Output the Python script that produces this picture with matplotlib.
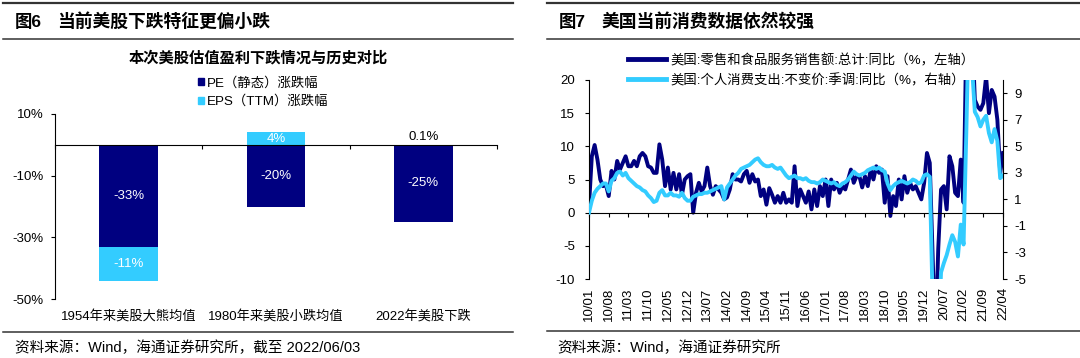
import matplotlib
matplotlib.use('Agg')
import matplotlib.pyplot as plt
from matplotlib.lines import Line2D
from matplotlib.patches import Patch
import numpy as np
import pandas as pd

plt.rcParams['font.family'] = ['Liberation Sans', 'Noto Sans CJK SC']
plt.rcParams['axes.unicode_minus'] = False

DARK = '#000080'
CYAN = '#33CCFF'
RULE = '#333333'

# ---- 图6 数据 ----
categories = ['1954年来美股大熊均值', '1980年来美股小跌均值', '2022年美股下跌']
pe_change = [-33, -20, -25]
eps_change = [-11, 4, 0.1]
pe_labels = ['-33%', '-20%', '-25%']
eps_labels = ['-11%', '4%', '0.1%']

# ---- 图7 数据 (2010/01 - 2022/04, 月度) ----
retail_yoy = [
    1.0, 8.5, 10.2, 8.0, 5.0, 4.0, 4.2, 2.5, 6.3, 5.0, 7.8, 6.5,
    7.5, 8.5, 7.0, 7.0, 7.8, 7.0, 8.5, 9.0, 8.5, 7.0, 6.8, 6.0,
    6.0, 10.3, 8.0, 4.0, 6.8, 3.5, 6.0, 3.5, 5.8, 2.7, 5.0, 5.5,
    5.8, 0.0, 3.0, 4.5, 3.2, 4.0, 6.8, 4.0, 2.7, 4.0, 3.5, 3.0,
    2.0, 2.3, 3.5, 5.8, 5.0, 5.0, 4.7, 5.8, 6.3, 4.5, 5.8, 4.7,
    5.0, 2.5, 3.5, 1.2, 3.7, 2.7, 1.5, 2.5, 1.5, 3.0, 1.5, 2.0,
    1.5, 7.0, 1.0, 3.5, 2.5, 1.5, 3.2, 0.5, 3.5, 1.0, 4.0, 2.5,
    5.0, 1.0, 5.0, 3.5, 4.5, 3.0, 4.0, 3.5, 5.0, 6.5, 4.5, 5.5,
    5.5, 3.8, 5.5, 4.0, 6.5, 5.0, 7.0, 6.0, 6.5, 1.5, 5.5, -0.5,
    2.5, 1.0, 5.0, 2.0, 5.5, 3.0, 4.5, 3.5, 4.0, 3.0, 2.0, 4.5,
    9.0, 7.5, -6.0, -20.0, -5.5, 3.5, 4.0, 0.5, 8.5, 7.0, 3.0, 2.5,
    8.0, 1.5, 28.0, 51.0, 28.0, 17.0, 16.0, 15.5, 16.5, 20.5, 15.0, 18.5,
    17.5, 14.0, 6.0, 9.0,
]
pce_yoy = [
    0.0, 0.9, 1.5, 1.8, 2.0, 2.2, 2.2, 1.6, 2.4, 2.6, 3.0, 3.1,
    2.8, 3.0, 2.6, 2.4, 2.2, 2.0, 1.9, 1.7, 1.6, 1.3, 1.1, 0.8,
    0.9, 1.5, 1.7, 1.3, 1.3, 1.5, 1.3, 1.3, 1.2, 1.5, 1.1, 0.9,
    0.9, 1.2, 1.3, 1.4, 1.4, 1.5, 1.5, 1.6, 1.7, 1.8, 1.9, 2.0,
    1.0, 1.9, 2.2, 2.5, 2.8, 3.0, 3.3, 3.4, 3.5, 3.6, 3.8, 4.0,
    4.1, 3.8, 3.6, 3.5, 3.5, 3.6, 3.4, 3.3, 3.4, 3.1, 2.8, 2.6,
    2.7, 2.8, 2.6, 2.6, 2.5, 2.6, 2.4, 2.3, 2.3, 2.2, 2.3, 2.5,
    2.4, 2.3, 2.2, 2.3, 2.1, 2.0, 2.2, 2.3, 2.5, 2.8, 3.1, 2.9,
    2.8, 2.9, 3.0, 3.2, 3.3, 3.4, 3.3, 3.4, 3.2, 3.1, 2.2, 1.7,
    2.0, 2.2, 2.3, 2.4, 2.3, 2.2, 2.3, 2.5, 2.4, 2.2, 2.3, 2.8,
    2.9, 2.7, -6.5, -17.0, -9.5, -4.5, -3.8, -3.2, -2.4, -1.7, -2.2, -3.3,
    -0.9, -2.4, 6.3, 16.0, 11.0, 7.6, 7.2, 6.5, 7.0, 7.3, 6.0, 5.3,
    6.3, 5.4, 2.6, 2.8,
]
months = pd.date_range('2010-01-01', periods=len(retail_yoy), freq='MS')
legend_retail = '美国:零售和食品服务销售额:总计:同比（%，左轴）'
legend_pce = '美国:个人消费支出:不变价:季调:同比（%，右轴）'

W, H = 1080, 358


def fx(px):
    return px / W


def fy(py):
    return 1 - py / H


def rule(x0, x1, y, lw=1.1):
    fig.add_artist(Line2D([fx(x0), fx(x1)], [fy(y), fy(y)], transform=fig.transFigure,
                          color=RULE, lw=lw))


fig = plt.figure(figsize=(W / 100, H / 100), dpi=100)

# 标题栏与分隔线
rule(3, 513, 3, 1.6)
rule(3, 513, 39)
rule(3, 513, 332)
rule(547, 1080, 3, 1.6)
rule(547, 1080, 39)
rule(547, 1080, 331)
fig.text(fx(15), fy(22), '图6', fontsize=12.5, weight='bold', va='center')
fig.text(fx(57), fy(22), '当前美股下跌特征更偏小跌', fontsize=12.8, weight='bold', va='center')
fig.text(fx(559), fy(22), '图7', fontsize=12.5, weight='bold', va='center')
fig.text(fx(601), fy(22), '美国当前消费数据依然较强', fontsize=12.8, weight='bold', va='center')
fig.text(fx(15), fy(348), '资料来源：Wind，海通证券研究所，截至 2022/06/03', fontsize=10.5, va='center')
fig.text(fx(557), fy(348), '资料来源：Wind，海通证券研究所', fontsize=10.5, va='center')

# ---------------- 图6 ----------------
ax1 = fig.add_axes([fx(55), fy(299), fx(497) - fx(55), fy(114) - fy(299)])
x = np.arange(len(categories))
pe = np.array(pe_change)
eps = np.array(eps_change)
eps_bottom = np.where((eps < 0) & (pe < 0), pe, 0)
ax1.bar(x, pe, width=0.4, color=DARK)
ax1.bar(x, eps, bottom=eps_bottom, width=0.4, color=CYAN)
for i in range(len(x)):
    ax1.text(x[i], pe[i] / 2, pe_labels[i], color='white', ha='center', va='center', fontsize=9.5)
    if abs(eps[i]) >= 1:
        ax1.text(x[i], eps_bottom[i] + eps[i] / 2, eps_labels[i], color='white',
                 ha='center', va='center', fontsize=9.5)
    else:
        ax1.text(x[i], eps[i] + 0.4, eps_labels[i], color='black',
                 ha='center', va='bottom', fontsize=9.5)
ax1.set_xlim(-0.5, 2.5)
ax1.set_ylim(-50, 10)
ax1.set_yticks([-50, -30, -10, 10])
ax1.set_yticklabels(['%d%%' % v for v in [-50, -30, -10, 10]])
ax1.spines['top'].set_visible(False)
ax1.spines['right'].set_visible(False)
ax1.spines['bottom'].set_position(('data', 0))
for s in ['left', 'bottom']:
    ax1.spines[s].set_color('black')
    ax1.spines[s].set_linewidth(0.8)
ax1.set_xticks([-0.5, 0.5, 1.5, 2.5])
ax1.set_xticklabels([])
ax1.tick_params(axis='both', direction='out', length=3, width=0.8, labelsize=9.5, pad=5)
sec1 = ax1.secondary_xaxis(0.0)
sec1.set_xticks(x)
sec1.set_xticklabels(categories, fontsize=9.5)
sec1.tick_params(length=0, pad=8)
sec1.spines['bottom'].set_visible(False)

fig.text(fx(258), fy(58), '本次美股估值盈利下跌情况与历史对比', fontsize=11, weight='bold',
         ha='center', va='center')
fig.legend([Patch(color=DARK), Patch(color=CYAN)], ['PE（静态）涨跌幅', 'EPS（TTM）涨跌幅'],
           loc='upper left', bbox_to_anchor=(fx(191), fy(70)), frameon=False, fontsize=9.6,
           handlelength=0.5, handleheight=0.5, handletextpad=0.2, labelspacing=0.45,
           borderpad=0)

# ---------------- 图7 ----------------
ax2 = fig.add_axes([fx(589), fy(279), fx(1003) - fx(589), fy(80) - fy(279)])
t = np.arange(len(retail_yoy))
ax2.plot(t, retail_yoy, color=DARK, lw=2.8, solid_joinstyle='round')
ax2.set_ylim(-10, 20)
ax2.set_yticks(range(-10, 21, 5))
ax2.set_xlim(0, len(t) - 1)
ax3 = ax2.twinx()
ax3.plot(t, pce_yoy, color=CYAN, lw=2.8, solid_joinstyle='round')
ax3.set_ylim(-5, 10)
ax3.set_yticks(range(-5, 10, 2))

tick_pos = t[::7]
ax2.set_xticks(tick_pos)
ax2.set_xticklabels([])
ax2.spines['bottom'].set_position(('data', 0))
ax2.spines['top'].set_visible(False)
ax2.spines['right'].set_visible(False)
for s in ['top', 'bottom', 'left']:
    ax3.spines[s].set_visible(False)
for a, s in [(ax2, 'left'), (ax2, 'bottom'), (ax3, 'right')]:
    a.spines[s].set_color('black')
    a.spines[s].set_linewidth(0.8)
ax2.tick_params(axis='both', direction='out', length=3, width=0.8, labelsize=9.5, pad=7)
ax3.tick_params(axis='y', direction='out', length=3, width=0.8, labelsize=9.5, pad=5)
sec2 = ax2.secondary_xaxis(0.0)
sec2.set_xticks(tick_pos)
sec2.set_xticklabels([d.strftime('%y/%m') for d in months[::7]], rotation=90, fontsize=9.5)
sec2.tick_params(length=0, pad=6)
sec2.spines['bottom'].set_visible(False)

ax2.legend([Line2D([], [], color=DARK, lw=3.5), Line2D([], [], color=CYAN, lw=3.5)],
           [legend_retail, legend_pce], loc='upper left', bbox_to_anchor=(fx(621), fy(47)),
           bbox_transform=fig.transFigure, frameon=False, fontsize=9.6, handlelength=2.9,
           handletextpad=0.3, labelspacing=0.5, borderpad=0)

fig.savefig('out.png', dpi=100)
